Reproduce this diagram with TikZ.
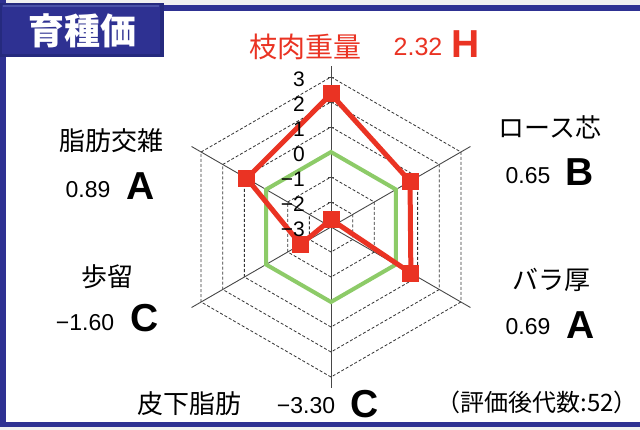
\documentclass[tikz,border=0pt]{standalone}
\usepackage{fontspec}
\setmainfont{Liberation Sans}
\newfontfamily\jp{Noto Sans CJK JP}
\newfontfamily\lat{Liberation Sans}
\definecolor{navy}{HTML}{2E3192}
\definecolor{navyd}{HTML}{252A7E}
\definecolor{navyl}{HTML}{4A52A8}
\definecolor{redc}{HTML}{EA3323}
\definecolor{greenc}{HTML}{8DCB68}
\definecolor{ringc}{HTML}{333333}
\tikzset{
  cjk/.style={font={\jp\fontsize{#1}{#1}\selectfont}, inner sep=0pt},
  numlab/.style={font={\lat\fontsize{#1}{#1}\selectfont}, inner sep=0pt},
  grade/.style={font={\lat\bfseries\fontsize{39}{39}\selectfont}, inner sep=0pt},
  ring/.style={draw=ringc, line width=0.8pt, dash pattern=on 3pt off 2pt},
  axisline/.style={draw=ringc!90, line width=0.9pt},
  redline/.style={draw=redc, line width=5pt, line join=round},
  greenline/.style={draw=greenc, line width=4pt, line join=miter},
  marker/.style={rectangle, fill=redc, minimum size=17pt, inner sep=0pt},
}
\begin{document}
\begin{tikzpicture}[x=1pt,y=-1pt]
\useasboundingbox (0,0) rectangle (640,430);
\fill[white] (0,0) rectangle (640,430);
% frame
\fill[gray!12] (0,0) rectangle (640,5);
\fill[navy] (0,5) rectangle (640,11);
\fill[navy] (0,0) rectangle (6,427);
\fill[navy] (0,422) rectangle (640,427);
\fill[gray!12] (0,427) rectangle (640,430);
% title box
\fill[navyd] (0,3) rectangle (164,57);
\fill[navy] (2,5) rectangle (160,54);
\draw[navyl, line width=1.2pt] (3,6) -- (159,6);
\node[cjk=36, text=white, font={\jp\bfseries\fontsize{36}{36}\selectfont}] (title) at (82,31) {育種価};

% radar
\coordinate (c) at (331,227);
\begin{scope}[shift={(331,227)}]
  \foreach \r in {25,50,75,100,125,150}{
    \draw[ring] (90:\r pt) -- (30:\r pt) -- (-30:\r pt) -- (-90:\r pt) -- (-150:\r pt) -- (150:\r pt) -- cycle;
  }
  \foreach \a in {90,30,-30,-90,-150,150}{
    \draw[axisline] (0,0) -- (\a:161pt);
  }
  \foreach \r in {25,50,75,100,125,150}{
    \draw[axisline] (-3,-\r) -- (3,-\r);
  }
  \draw[greenline] (90:75pt) -- (30:75pt) -- (-30:75pt) -- (-90:75pt) -- (-150:75pt) -- (150:75pt) -- cycle;
  \coordinate (p1) at (90:133pt);
  \coordinate (p2) at (30:91.25pt);
  \coordinate (p3) at (-30:92.25pt);
  \coordinate (p4) at (90:7.5pt);
  \coordinate (p5) at (-150:35pt);
  \coordinate (p6) at (150:97.25pt);
\end{scope}
\draw[redline] (p1) -- (p2) -- (p3) -- (p4) -- (p5) -- (p6) -- cycle;
\foreach \i in {1,...,6}{ \node[marker] (m\i) at (p\i) {}; }

% scale labels
\node[numlab=21, anchor=east] (s3) at (305,79) {3};
\node[numlab=21, anchor=east] (s2) at (305,104) {2};
\node[numlab=21, anchor=east] (s1) at (305,129) {1};
\node[numlab=21, anchor=east] (s0) at (305,154) {0};
\node[numlab=21, anchor=east] (sm1) at (305,179) {−1};
\node[numlab=21, anchor=east] (sm2) at (305,204) {−2};
\node[numlab=21, anchor=east] (sm3) at (305,229) {−3};

% category labels
\node[cjk=28, text=redc] (l1) at (305,47) {枝肉重量};
\node[numlab=25, text=redc] (v1) at (418,47) {2.32};
\node[grade, text=redc] (g1) at (466,44) {H};

\node[cjk=26] (l2) at (550,127) {ロース芯};
\node[numlab=23] (v2) at (528,176) {0.65};
\node[grade] (g2) at (580,172) {B};

\node[cjk=26] (l3) at (551,280) {バラ厚};
\node[numlab=23] (v3) at (528,327) {0.69};
\node[grade] (g3) at (581,325) {A};

\node[cjk=26] (l4) at (189,404) {皮下脂肪};
\node[numlab=23] (v4) at (306,406) {−3.30};
\node[grade] (g4) at (365,404) {C};

\node[cjk=26] (l5) at (107,277) {歩留};
\node[numlab=23] (v5) at (85,323) {−1.60};
\node[grade] (g5) at (145,318) {C};

\node[cjk=26] (l6) at (111,141) {脂肪交雑};
\node[numlab=23] (v6) at (88,190) {0.89};
\node[grade] (g6) at (141,186) {A};

\node[cjk=24] (gen) at (537,402) {（評価後代数:52）};
\end{tikzpicture}
\end{document}
